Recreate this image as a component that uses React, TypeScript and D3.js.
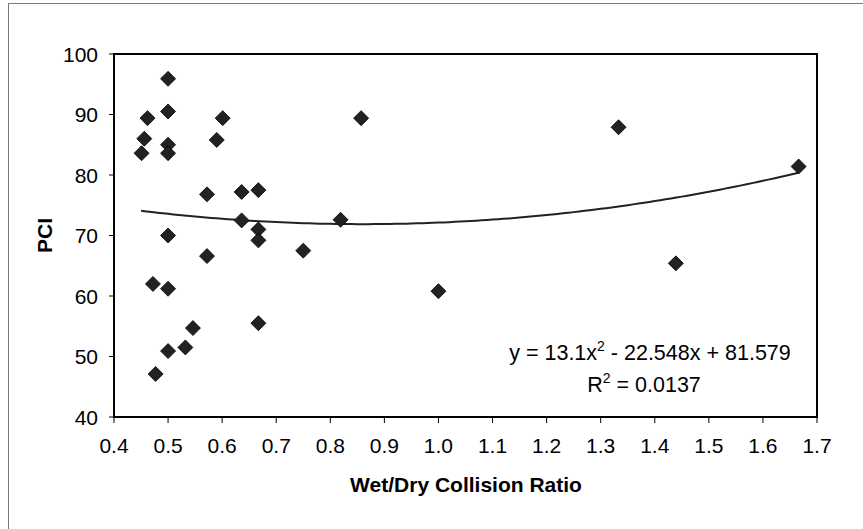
import React from "react";
import * as d3 from "d3";

const ratioValues = [0.5, 0.462, 0.5, 0.456, 0.451, 0.5, 0.5, 0.59, 0.601, 0.572, 0.636, 0.667, 0.636, 0.667, 0.667, 0.5, 0.572, 0.75, 0.819, 0.857, 0.472, 0.5, 0.667, 0.546, 0.532, 0.5, 0.477, 1.0, 1.333, 1.439, 1.666];
const pciValues = [95.9, 89.4, 90.5, 86.0, 83.6, 85.0, 83.6, 85.8, 89.4, 76.8, 77.2, 77.5, 72.5, 71.0, 69.2, 70.0, 66.6, 67.5, 72.6, 89.4, 62.0, 61.2, 55.5, 54.7, 51.5, 50.9, 47.1, 60.8, 87.9, 65.4, 81.4];
const xTicks = [0.4, 0.5, 0.6, 0.7, 0.8, 0.9, 1.0, 1.1, 1.2, 1.3, 1.4, 1.5, 1.6, 1.7];
const yTicks = [40, 50, 60, 70, 80, 90, 100];
const trendCoef = [13.1, -22.548, 81.579];
const trendRange = [0.45, 1.666];

export default function App() {
  const W = 863, H = 529;
  const left = 114, right = 817, top = 54, bottom = 417;
  const x = d3.scaleLinear().domain([0.4, 1.7]).range([left, right]);
  const y = d3.scaleLinear().domain([40, 100]).range([bottom, top]);
  const font = "'Liberation Sans', Arial, sans-serif";

  const trendX = d3.range(trendRange[0], trendRange[1] + 0.0001, 0.01);
  if (trendX[trendX.length - 1] < trendRange[1]) trendX.push(trendRange[1]);
  const trendPts = trendX.map((v) => [v, trendCoef[0] * v * v + trendCoef[1] * v + trendCoef[2]] as [number, number]);
  const line = d3.line<[number, number]>().x((d) => x(d[0])).y((d) => y(d[1]));

  const data = ratioValues.map((r, i) => ({ r, p: pciValues[i] }));
  const s = 7.5;

  return (
    <svg width={W} height={H} style={{ position: "absolute", left: 0, top: 0, background: "#fff" }}>
      <rect x={0} y={0} width={W} height={H} fill="#fff" />
      <line x1={8} x2={W} y1={3.5} y2={3.5} stroke="#7a7a7a" strokeWidth={1} />
      <line x1={8.5} x2={8.5} y1={3} y2={H} stroke="#7a7a7a" strokeWidth={1} />
      {/* plot frame */}
      <rect x={left} y={top} width={right - left} height={bottom - top} fill="none" stroke="#000" strokeWidth={2} />
      {/* y ticks */}
      {yTicks.map((t) => (
        <g key={"y" + t}>
          <line x1={left - 5} x2={left} y1={y(t)} y2={y(t)} stroke="#000" strokeWidth={1} />
          <text x={left - 16} y={y(t)} dy="0.36em" textAnchor="end" fontFamily={font} fontSize={21} fill="#000">{t}</text>
        </g>
      ))}
      {/* x ticks */}
      {xTicks.map((t) => (
        <g key={"x" + t}>
          <line x1={x(t)} x2={x(t)} y1={bottom} y2={bottom + 6} stroke="#000" strokeWidth={1} />
          <text x={x(t)} y={453} textAnchor="middle" fontFamily={font} fontSize={21} fill="#000">{t.toFixed(1)}</text>
        </g>
      ))}
      {/* trend */}
      <path d={line(trendPts) || ""} fill="none" stroke="#222" strokeWidth={2} />
      {/* points */}
      {data.map((d, i) => {
        const cx = x(d.r), cy = y(d.p);
        return (
          <path key={i} d={`M${cx},${cy - s}L${cx + s},${cy}L${cx},${cy + s}L${cx - s},${cy}Z`} fill="#222" stroke="#000" strokeWidth={0.8} />
        );
      })}
      {/* equation */}
      <text x={650} y={360} textAnchor="middle" fontFamily={font} fontSize={21.5} fill="#000">
        y = 13.1x<tspan dy={-9} fontSize={14}>2</tspan><tspan dy={9}> - 22.548x + 81.579</tspan>
      </text>
      <text x={644} y={392} textAnchor="middle" fontFamily={font} fontSize={21.5} fill="#000">
        R<tspan dy={-9} fontSize={14}>2</tspan><tspan dy={9}> = 0.0137</tspan>
      </text>
      {/* axis titles */}
      <text x={466} y={492} textAnchor="middle" fontFamily={font} fontSize={21} fontWeight="bold" fill="#000">Wet/Dry Collision Ratio</text>
      <text transform={`translate(52,${(top + bottom) / 2}) rotate(-90)`} textAnchor="middle" fontFamily={font} fontSize={21} fontWeight="bold" fill="#000">PCI</text>
    </svg>
  );
}
